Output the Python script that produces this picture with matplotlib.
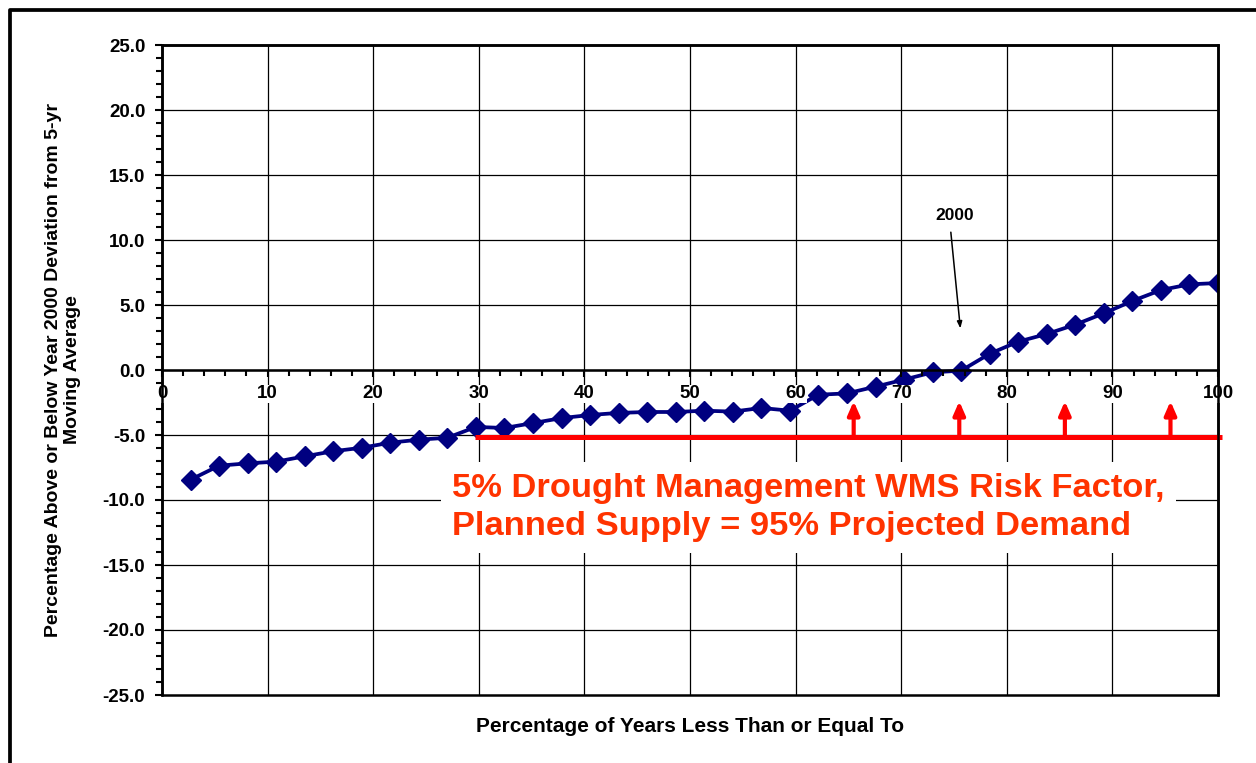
import numpy as np
import matplotlib
matplotlib.use('Agg')
import matplotlib.pyplot as plt
from matplotlib.lines import Line2D
from matplotlib.ticker import MultipleLocator, FormatStrFormatter

plt.rcParams['font.family'] = ['Liberation Sans', 'DejaVu Sans']
plt.rcParams['font.weight'] = 'bold'

# percentile of years (37 ranked years)
pct = np.arange(1, 38) * 100 / 37
deviation = [-8.44, -7.36, -7.18, -7.05, -6.64, -6.25, -5.98, -5.59, -5.36, -5.21,
             -4.38, -4.46, -4.08, -3.70, -3.46, -3.30, -3.23, -3.23, -3.13, -3.20,
             -2.92, -3.13, -1.90, -1.80, -1.28, -0.74, -0.18, -0.05, 1.25, 2.18,
             2.77, 3.49, 4.36, 5.31, 6.15, 6.59, 6.69]

risk_level = -5.15
risk_range = [29.6, 100.4]
arrow_x = [65.5, 75.5, 85.5, 95.5]
arrow_top = -2.4

label_2000 = (75.1, 11.85)
arrow_2000 = [(74.7, 10.6), (75.6, 3.2)]

fig = plt.figure(figsize=(12.56, 7.63), dpi=100)
ax = fig.add_axes([162/1256, 68/763, 1056/1256, 650/763])

ax.set_xlim(0, 100)
ax.set_ylim(-25, 25)

# grid drawn by hand so the tick labels can sit on top of the data line
for gx in range(10, 100, 10):
    ax.axvline(gx, color='black', lw=0.9, zorder=1)
for gy in range(-20, 25, 5):
    ax.axhline(gy, color='black', lw=0.9, zorder=1)

ax.plot(pct, deviation, color='#000080', lw=2.7, marker='D', ms=10.5, zorder=2)

# red risk factor line and arrows
ax.plot(risk_range, [risk_level, risk_level], color='#ff0000', lw=3.6,
        solid_capstyle='butt', zorder=3, clip_on=False)
for xa in arrow_x:
    ax.annotate('', xy=(xa, arrow_top), xytext=(xa, risk_level), zorder=3,
                arrowprops=dict(arrowstyle='-|>,head_width=0.35,head_length=0.8',
                                color='#ff0000', lw=3, shrinkA=0, shrinkB=0))

ax.text(label_2000[0], label_2000[1], '2000', ha='center', va='center',
        fontsize=12.5, fontweight='bold', zorder=4)
ax.annotate('', xy=arrow_2000[1], xytext=arrow_2000[0],
            arrowprops=dict(arrowstyle='-|>,head_width=0.15,head_length=0.4',
                            color='black', lw=1.1, shrinkA=0, shrinkB=0))

ax.text(27.5, -10.6, '5% Drought Management WMS Risk Factor,\nPlanned Supply = 95% Projected Demand',
        color='#ff3300', fontsize=24.8, fontweight='bold', ha='left', va='center',
        linespacing=1.3, zorder=5,
        bbox=dict(facecolor='white', edgecolor='none', pad=8))

# axes: x axis crosses at zero, full frame drawn around plot area
for side in ['top', 'right', 'left']:
    ax.spines[side].set_linewidth(1.8)
ax.spines['bottom'].set_position(('data', 0))
ax.spines['bottom'].set_linewidth(1.8)
ax.add_patch(plt.Rectangle((0, 0), 1, 1, transform=ax.transAxes, fill=False,
                           lw=1.8, edgecolor='black', zorder=6, clip_on=False))

ax.xaxis.set_major_locator(MultipleLocator(10))
ax.xaxis.set_minor_locator(MultipleLocator(2))
ax.yaxis.set_major_locator(MultipleLocator(5))
ax.yaxis.set_minor_locator(MultipleLocator(1))
ax.yaxis.set_major_formatter(FormatStrFormatter('%.1f'))
ax.tick_params(axis='both', which='major', direction='out', length=5, width=1.5,
               labelsize=13.5)
ax.tick_params(axis='both', which='minor', direction='out', length=4, width=1.5)
ax.tick_params(axis='x', pad=6)
ax.tick_params(axis='y', pad=7)
ax.xaxis.set_zorder(4)
for lbl in ax.get_xticklabels():
    lbl.set_fontweight('bold')
    lbl.set_bbox(dict(facecolor='white', edgecolor='none', pad=0.5))
for lbl in ax.get_yticklabels():
    lbl.set_fontweight('bold')

ax.set_ylabel('Percentage Above or Below Year 2000 Deviation from 5-yr\nMoving Average',
              fontsize=14, fontweight='bold', linespacing=1.1)
ax.yaxis.set_label_coords(-0.077, 0.5)
fig.text(690/1256, 1 - 727/763, 'Percentage of Years Less Than or Equal To',
         fontsize=15, fontweight='bold', ha='center', va='center')

# outer frame (top and left edges visible)
fig.add_artist(Line2D([9.5/1256, 9.5/1256, 1], [0, 1 - 9.5/763, 1 - 9.5/763],
                      transform=fig.transFigure, color='black', lw=2.7))

fig.savefig('out.png', dpi=100)
